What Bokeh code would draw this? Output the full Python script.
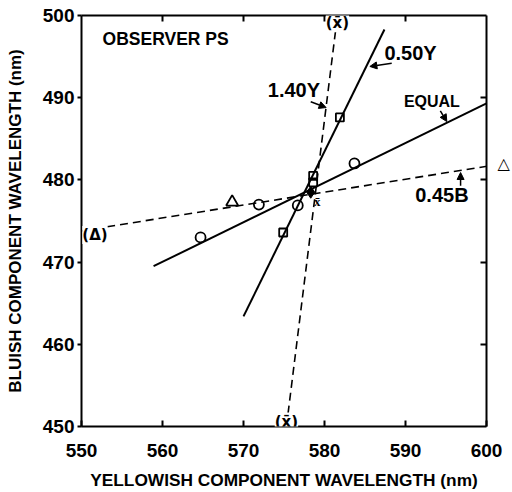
from bokeh.plotting import figure
from bokeh.models import Range1d, LinearAxis, FixedTicker, Label, Arrow, NormalHead
from bokeh.embed import file_html
from bokeh.resources import INLINE

# ---- data ----
x_ticks = [550, 560, 570, 580, 590, 600]
y_ticks = [450, 460, 470, 480, 490, 500]
x_inner = [560, 570, 580, 590]
y_inner = [460, 470, 480, 490]

# fitted lines (end points)
equal_x = [558.9, 600.0]
equal_y = [469.5, 489.3]
y050_x = [570.0, 587.4]
y050_y = [463.4, 498.3]
y140_x = [575.3, 581.6]
y140_y = [450.0, 500.0]
b045_x = [550.0, 602.2]
b045_y = [473.8, 482.0]

# data points
circle_x = [564.7, 571.9, 576.7, 583.7]
circle_y = [473.0, 477.0, 476.9, 482.0]
square_x = [574.9, 578.6, 578.6, 581.9]
square_y = [473.6, 479.7, 480.5, 487.6]
triangle_x = [568.6, 602.2]
triangle_y = [477.3, 482.0]
xbar_x = [579.1]
xbar_y = [477.4]
cross_x = [578.3]
cross_y = [478.5]

FONT = "Liberation Sans"

p = figure(width=512, height=492, output_backend="svg", toolbar_location=None,
           x_range=Range1d(550, 600), y_range=Range1d(450, 500),
           min_border_left=81, min_border_right=26, min_border_top=15, min_border_bottom=66,
           x_axis_label="YELLOWISH COMPONENT WAVELENGTH (nm)",
           y_axis_label="BLUISH COMPONENT WAVELENGTH (nm)")
p.outline_line_color = None
p.grid.visible = False
p.background_fill_color = "white"

for ax in (p.xaxis[0], p.yaxis[0]):
    ax.axis_line_width = 2
    ax.axis_line_color = "black"
    ax.major_tick_line_width = 2
    ax.minor_tick_line_color = None
    ax.major_label_text_font = FONT
    ax.major_label_text_font_style = "bold"
    ax.major_label_text_font_size = "19px"
    ax.major_label_text_color = "black"
    ax.axis_label_text_font = FONT
    ax.axis_label_text_font_style = "bold"
    ax.axis_label_text_color = "black"

xa = p.xaxis[0]
xa.ticker = FixedTicker(ticks=x_ticks)
xa.major_tick_in = 6
xa.major_tick_out = 0
xa.major_label_standoff = 17
xa.axis_label_standoff = 10
xa.axis_label_text_font_size = "17.3px"

ya = p.yaxis[0]
ya.ticker = FixedTicker(ticks=y_ticks)
ya.major_tick_in = 0
ya.major_tick_out = 4
ya.major_label_standoff = 3
ya.axis_label_standoff = 15
ya.axis_label_text_font_size = "17px"

# frame sides with inward ticks; the right side also carries the
# parenthesised triangle that lies just beyond 600 nm
top = LinearAxis(ticker=FixedTicker(ticks=[], minor_ticks=x_inner))
right = LinearAxis(ticker=FixedTicker(ticks=[triangle_y[-1]], minor_ticks=y_inner),
                   major_label_overrides={triangle_y[-1]: "\u25b3"})
for ax in (top, right):
    ax.axis_line_width = 2
    ax.axis_line_color = "black"
    ax.major_tick_line_color = None
    ax.major_tick_in = 0
    ax.major_tick_out = 0
    ax.minor_tick_line_width = 2
    ax.minor_tick_line_color = "black"
    ax.minor_tick_in = 6
    ax.minor_tick_out = 0
right.major_label_standoff = 11
right.major_label_text_font = "DejaVu Sans"
right.major_label_text_font_style = "bold"
right.major_label_text_font_size = "16px"
right.major_label_text_color = "black"
top.major_label_standoff = 0
p.add_layout(top, "above")
p.add_layout(right, "right")

# lines
p.line(equal_x, equal_y, line_color="black", line_width=2)
p.line(y050_x, y050_y, line_color="black", line_width=2)
p.line(y140_x, y140_y, line_color="black", line_width=1.6, line_dash="8 5")
p.line(b045_x, b045_y, line_color="black", line_width=1.6, line_dash="8 5")

# markers
p.scatter(circle_x, circle_y, marker="circle", size=10, fill_color=None, line_color="black", line_width=1.8)
p.scatter(square_x, square_y, marker="square", size=8, fill_color=None, line_color="black", line_width=1.8)
p.scatter(triangle_x, triangle_y, marker="triangle", size=12, fill_color="white", line_color="black", line_width=1.8)
p.scatter(cross_x, cross_y, marker="diamond", size=12, fill_color="black", line_color="black")
p.text(xbar_x, xbar_y, text=["x\u0304"], text_align="center", text_baseline="middle",
       text_font="DejaVu Sans", text_font_size="13px", text_font_style="bold", text_color="black")

def lab(x, y, t, size="16px", align="center", bg=None, font=FONT):
    l = Label(x=x, y=y, text=t, text_align=align, text_baseline="middle",
              text_font=font, text_font_style="bold", text_font_size=size,
              text_color="black")
    if bg:
        l.background_fill_color = bg
    p.add_layout(l)

# parenthesised points lying on the axes
lab(581.6, 499.05, "(x\u0304)", size="15px", bg="white", font="DejaVu Sans")
lab(575.3, 450.6, "(x\u0304)", size="15px", bg="white", font="DejaVu Sans")
lab(550.1, 473.3, "(\u0394)", size="15px", align="left", bg="white", font="DejaVu Sans")

# text labels
lab(552.6, 497.2, "OBSERVER PS", size="17.5px", align="left")
lab(587.4, 495.4, "0.50Y", size="20px", align="left")
lab(573.0, 490.9, "1.40Y", size="20px", align="left")
lab(589.8, 489.5, "EQUAL", size="16px", align="left")
lab(591.2, 478.2, "0.45B", size="20px", align="left")

def arr(x0, y0, x1, y1):
    p.add_layout(Arrow(x_start=x0, y_start=y0, x_end=x1, y_end=y1, line_width=1.5,
                       end=NormalHead(size=7, fill_color="black", line_color="black")))

arr(588.3, 494.2, 585.6, 493.8)
arr(578.3, 489.5, 580.2, 488.8)
arr(594.3, 488.4, 595.1, 487.1)
arr(596.8, 479.3, 596.8, 480.9)

open("out.html", "w").write(file_html(p, INLINE))
